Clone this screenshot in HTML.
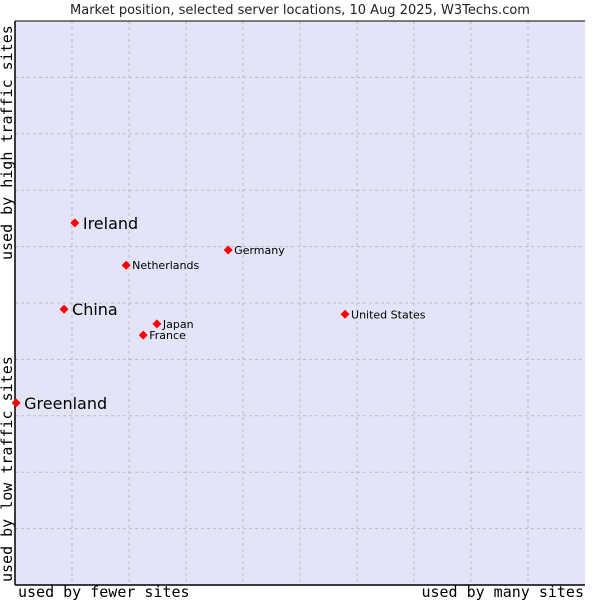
<!DOCTYPE html>
<html><head><meta charset="utf-8"><style>
body{margin:0;background:#fff;}
svg{display:block;}
</style></head><body>
<svg id="chart" width="600" height="600" xmlns="http://www.w3.org/2000/svg">
<text x="300" y="14" text-anchor="middle" font-family="DejaVu Sans, sans-serif" font-size="13" fill="#222">Market position, selected server locations, 10 Aug 2025, W3Techs.com</text>
<rect x="15" y="21" width="570" height="564" fill="#e3e4f8" stroke="none"/>
<g id="grid"></g>
<line x1="15" y1="21" x2="15" y2="585" stroke="#000" stroke-width="1.5"/>
<line x1="15" y1="585" x2="585" y2="585" stroke="#000" stroke-width="1.5"/>
<line x1="15" y1="21" x2="585" y2="21" stroke="#000" stroke-width="1"/>
<text x="18" y="597" font-family="DejaVu Sans Mono, monospace" font-size="15" fill="#000">used by fewer sites</text>
<text x="584" y="597" text-anchor="end" font-family="DejaVu Sans Mono, monospace" font-size="15" fill="#000">used by many sites</text>
<text transform="translate(12,582) rotate(-90)" font-family="DejaVu Sans Mono, monospace" font-size="15" fill="#000">used by low traffic sites</text>
<text transform="translate(12,260) rotate(-90)" font-family="DejaVu Sans Mono, monospace" font-size="15" fill="#000">used by high traffic sites</text>
<g id="points"></g>
</svg>
<script>
const names = ["Ireland","China","Greenland","Netherlands","Germany","Japan","France","United States"];
const xVals = [10.5, 8.6, 0.2, 19.5, 37.4, 24.9, 22.5, 57.9];
const yVals = [64.2, 48.9, 32.3, 56.7, 59.4, 46.3, 44.3, 48.0];
const bigLabel = [true, true, true, false, false, false, false, false];
const gridTicks = [10,20,30,40,50,60,70,80,90];

const L=15,R=585,T=21,B=585;
const sx = v => L + v/100*(R-L);
const sy = v => B - v/100*(B-T);
const NS="http://www.w3.org/2000/svg";
const grid=document.getElementById('grid');
gridTicks.forEach(t=>{
  const v=document.createElementNS(NS,'line');
  v.setAttribute('x1',sx(t));v.setAttribute('x2',sx(t));v.setAttribute('y1',T);v.setAttribute('y2',B);
  v.setAttribute('stroke','#bbb');v.setAttribute('stroke-dasharray','3,3');
  
  
  grid.appendChild(v);
  const h=document.createElementNS(NS,'line');
  h.setAttribute('x1',L);h.setAttribute('x2',R);h.setAttribute('y1',sy(t));h.setAttribute('y2',sy(t));
  h.setAttribute('stroke','#bbb');h.setAttribute('stroke-dasharray','3,3');
  
  
  grid.appendChild(h);
});
const pts=document.getElementById('points');
names.forEach((n,i)=>{
  const x=sx(xVals[i]), y=sy(yVals[i]);
  const d=document.createElementNS(NS,'path');
  d.setAttribute('d',`M${x} ${y-4.5}L${x+4.5} ${y}L${x} ${y+4.5}L${x-4.5} ${y}Z`);
  d.setAttribute('fill','#f00');
  
  
  pts.appendChild(d);
  const t=document.createElementNS(NS,'text');
  const big=bigLabel[i];
  t.setAttribute('x',x+(big?8:6));
  t.setAttribute('y',y+(big?6:4));
  t.setAttribute('font-family','DejaVu Sans, sans-serif');
  t.setAttribute('font-size',big?16:11);
  t.setAttribute('fill','#000');
  t.textContent=n;
  
  
  pts.appendChild(t);
});
</script>
</body></html>
